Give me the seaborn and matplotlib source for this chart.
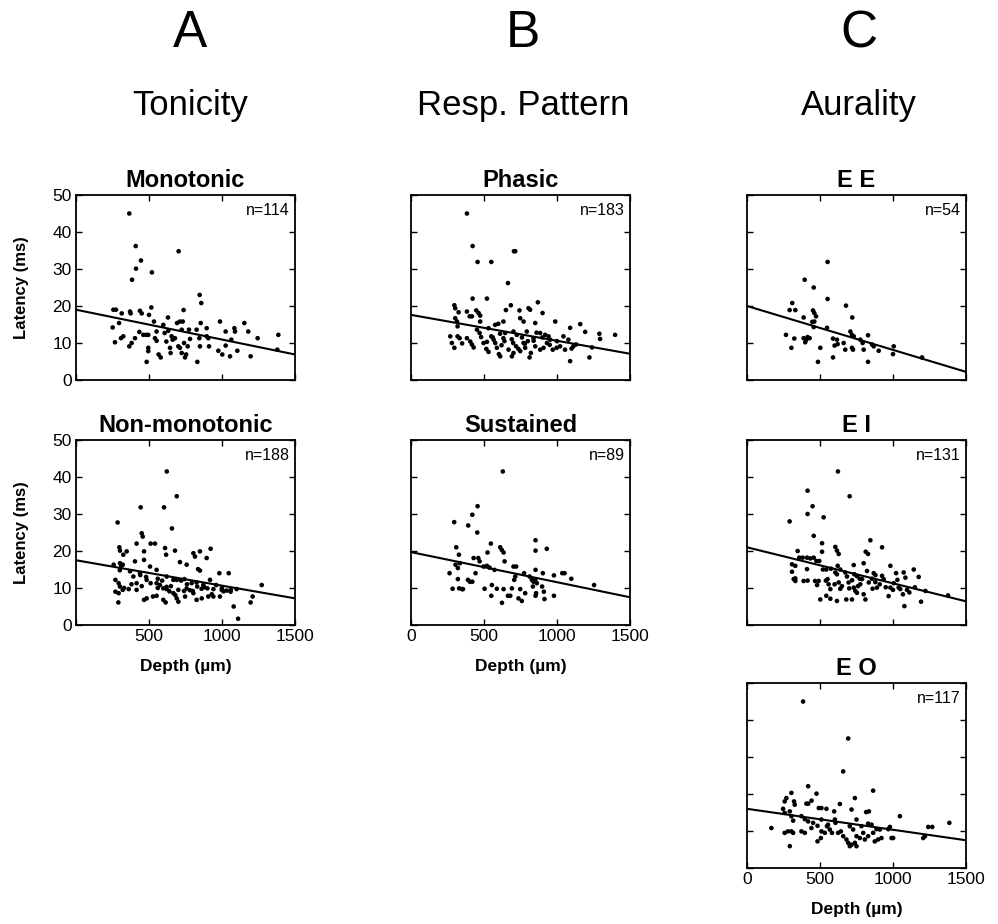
import numpy as np
import pandas as pd
import matplotlib
matplotlib.use("Agg")
import matplotlib.pyplot as plt
import seaborn as sns

# ---------------- data ----------------
titles = ["Monotonic", "Non-monotonic", "Phasic", "Sustained", "E E", "E I", "E O"]
n_labels = ["n=114", "n=188", "n=183", "n=89", "n=54", "n=131", "n=117"]
column_headers = ["A", "B", "C"]
column_names = ["Tonicity", "Resp. Pattern", "Aurality"]
x_ticks = [0, 500, 1000, 1500]
y_ticks = [0, 10, 20, 30, 40, 50]

mono_depth = [365, 409, 411, 445, 384, 520, 703, 847, 858, 256,
              274, 313, 370, 374, 438, 450, 500, 516, 737, 251,
              295, 308, 324, 267, 365, 381, 404, 434, 461, 480,
              495, 484, 495, 495, 534, 552, 541, 552, 566, 580,
              598, 607, 619, 630, 632, 644, 648, 655, 662, 678,
              692, 712, 731, 701, 712, 724, 724, 740, 747, 754,
              765, 774, 781, 826, 831, 845, 849, 854, 895, 895,
              906, 911, 975, 986, 1002, 1025, 1025, 1055, 1064, 1085,
              1089, 1105, 1153, 1180, 1196, 1244, 1386, 1379]
mono_lat = [45, 36.2, 30.1, 32.3, 27.1, 29.1, 34.8, 23, 20.8, 19,
            19, 18, 18.5, 18, 18.7, 18, 17.6, 19.6, 18.9, 14.2,
            15.4, 11.3, 11.8, 10.2, 9.1, 10, 11.3, 13, 12.2, 12.2,
            12.2, 4.9, 8.7, 7.8, 15.8, 13.1, 11.3, 10.6, 6.9, 6.1,
            14.9, 12.7, 10.4, 16.9, 13.3, 8.7, 7.3, 11.8, 10.9, 11.3,
            15.4, 15.8, 15.8, 9.1, 8.7, 7.3, 13.6, 10, 6.1, 6.9,
            9.1, 13.6, 11.1, 13.6, 4.9, 11.3, 9.1, 15.4, 14, 11.8,
            11.3, 9.1, 7.9, 15.8, 6.9, 13.1, 9.3, 6.4, 10.9, 14,
            13.1, 7.9, 15.4, 13.1, 6.4, 11.3, 12.2, 8.2]

nonmono_depth = [622, 690, 285, 443, 603, 657, 450, 457, 415, 511,
                 541, 466, 297, 301, 347, 324, 610, 617, 678, 804,
                 815, 849, 922, 895, 258, 301, 320, 404, 466, 507,
                 552, 712, 758, 836, 849, 982, 1046, 270, 292, 301,
                 370, 393, 415, 438, 484, 511, 552, 575, 621, 598,
                 621, 667, 690, 701, 742, 758, 792, 826, 872, 918,
                 941, 998, 1032, 1059, 1100, 270, 292, 290, 361, 415,
                 466, 484, 527, 552, 598, 614, 667, 690, 701, 747,
                 804, 826, 861, 906, 941, 1080, 1110, 1196, 1210, 1272,
                 986, 330, 320, 380, 450, 560, 620, 650, 720, 760,
                 800, 830, 880, 960, 1000, 300, 310, 440, 480, 560,
                 590, 640, 680, 740, 780, 860, 900, 930, 1010, 1060]
nonmono_lat = [41.5, 34.8, 27.7, 31.8, 31.8, 26.1, 24.8, 23.9, 22, 22,
               22, 19.9, 21, 20.1, 19.9, 19, 20.8, 19, 20.1, 19.4,
               18.5, 19.9, 20.6, 18.1, 16.3, 16.7, 16.3, 17.2, 17.6, 15.8,
               14.9, 17, 16.3, 15.1, 14.7, 14, 14, 12.2, 11.3, 10.4,
               14.5, 13.1, 11.3, 14, 12.2, 11.3, 11.3, 10.8, 13.1, 9.9,
               9.7, 12.2, 12.2, 9.5, 12.4, 9.9, 11.3, 11.5, 10.8, 12.2,
               9.7, 9.5, 9.3, 9, 9.7, 9, 8.6, 6.1, 9.7, 9.5,
               6.8, 7.2, 7.7, 7.9, 6.8, 6.1, 8.6, 7.2, 6.3, 7.7,
               8.6, 6.8, 7.2, 7.7, 7.7, 5, 1.7, 6.1, 7.7, 10.8,
               7.7, 10, 9.5, 11, 10.5, 10, 10.3, 10.5, 12, 11,
               9.2, 10.4, 10.2, 10.8, 10, 14.8, 16, 13.5, 13, 12.5,
               12, 9.1, 8.1, 9.2, 9.4, 9.8, 9.9, 8.3, 9.1, 9.5]

phasic_depth = [383, 422, 456, 550, 705, 714, 664, 422, 520, 869,
                297, 303, 383, 447, 463, 474, 326, 650, 684, 743,
                805, 816, 901, 748, 771, 851, 988, 1090, 1159, 1290,
                1193, 1398, 303, 315, 319, 402, 417, 474, 576, 598,
                633, 531, 269, 280, 297, 319, 333, 383, 406, 417,
                429, 452, 470, 497, 516, 531, 550, 566, 577, 588,
                602, 611, 633, 645, 668, 691, 702, 720, 736, 748,
                771, 782, 812, 821, 839, 851, 885, 908, 931, 953,
                971, 998, 1021, 1055, 1078, 1090, 1112, 1131, 1222, 1240,
                1295, 885, 919, 942, 702, 725, 793, 1044, 560, 610,
                640, 690, 760, 800, 860, 950, 1100, 350, 480, 520,
                620, 700, 780, 840, 900, 1000]
phasic_lat = [45, 36.2, 31.9, 31.9, 34.8, 34.8, 26.2, 22, 22, 21,
              20.2, 19.4, 18.5, 18.8, 18.1, 17.4, 18.3, 18.9, 20.2, 18.8,
              19.4, 19, 18.1, 16.7, 15.8, 15.4, 15.8, 14.1, 15.1, 12.5,
              13, 12.2, 16.7, 15.8, 14.5, 17.2, 17.2, 15.8, 14.9, 15.2,
              15.8, 14, 11.8, 10, 8.7, 11.8, 11.3, 11.3, 10.4, 9.6,
              8.8, 13.6, 12.7, 10, 8.4, 7.6, 11.8, 10.9, 10, 8.7,
              7, 6.4, 11.3, 12.7, 8.2, 6.4, 7.3, 9.1, 8.4, 7.8,
              10, 8.7, 6.1, 7.3, 11.3, 9.1, 8.2, 8.7, 10, 10.9,
              8.2, 8.7, 9.1, 8.2, 10.9, 5.1, 9.1, 9.6, 6.1, 8.8,
              11.1, 12.7, 12.2, 11.8, 13.1, 12.2, 13.1, 11.8, 11.5, 12.5,
              10.5, 11, 11.5, 10.5, 12.8, 9.5, 8.5, 9.9, 11.6, 10.3,
              9.4, 10, 9.8, 10.6, 11.5, 10.5]

sust_depth = [629, 456, 420, 296, 392, 454, 547, 611, 622, 634,
              310, 328, 524, 853, 853, 930, 641, 429, 461, 470,
              305, 321, 335, 497, 520, 538, 702, 720, 572, 264,
              775, 853, 903, 979, 1036, 1052, 1098, 1254, 321, 390,
              403, 420, 442, 330, 350, 285, 356, 504, 554, 588,
              634, 550, 623, 664, 680, 707, 714, 748, 736, 759,
              782, 812, 828, 839, 851, 862, 853, 857, 898, 910,
              914, 979, 835, 691]
sust_lat = [41.5, 32.1, 29.8, 27.8, 26.9, 25, 22, 21, 20.3, 19.6,
            21, 19, 19.6, 22.9, 20.1, 20.6, 17.2, 18.1, 18.1, 17.2,
            16.3, 15.4, 16.7, 15.8, 16, 15.5, 15.8, 15.8, 14.9, 14,
            14, 14.9, 14, 13.4, 14, 14, 12.5, 10.8, 12.4, 12.2,
            11.7, 11.7, 14, 9.9, 9.7, 9.8, 9.7, 9.8, 10.8, 9.8,
            9.7, 7.9, 6, 7.9, 7.9, 12.2, 13.1, 9.7, 7.2, 6.5,
            8.6, 13.1, 12.2, 11.7, 12.2, 11.3, 7.9, 8.6, 10.4, 9,
            7, 7.9, 10.4, 9.9]

ee_depth = [552, 395, 457, 552, 678, 721, 310, 292, 331, 388,
            452, 461, 473, 447, 461, 457, 548, 267, 324, 388,
            406, 415, 429, 399, 304, 502, 486, 589, 589, 616,
            600, 621, 662, 673, 708, 719, 731, 719, 726, 776,
            792, 799, 829, 829, 856, 868, 902, 1005, 1000, 1199]
ee_lat = [31.9, 27.1, 25, 21.9, 20.1, 16.9, 20.8, 18.9, 18.9, 16.9,
          18.8, 18.1, 17.2, 15.7, 15.8, 14.3, 14.1, 12.2, 11.2, 11.3,
          10.9, 11.6, 11.3, 10.2, 8.7, 8.7, 4.9, 6.1, 11.2, 10.9,
          9.3, 9.7, 10, 8.2, 13.1, 12.2, 11.8, 8.7, 8.2, 10.9,
          10, 8.2, 12.1, 4.9, 9.6, 9.1, 7.9, 9.1, 7, 6.1]

ei_depth = [623, 415, 703, 449, 415, 525, 292, 457, 845, 514,
            605, 616, 628, 813, 829, 925, 514, 347, 358, 381,
            411, 434, 457, 475, 308, 331, 495, 520, 543, 575,
            621, 639, 731, 799, 868, 982, 1142, 1021, 1073, 1085,
            1176, 308, 320, 331, 411, 415, 466, 491, 552, 605,
            616, 628, 639, 673, 685, 735, 753, 772, 696, 776,
            788, 822, 834, 856, 879, 731, 742, 753, 719, 799,
            811, 890, 909, 925, 936, 970, 982, 1005, 1039, 1050,
            1068, 1078, 1096, 1112, 1192, 1222, 1377, 502, 543, 571,
            616, 680, 388, 331, 559, 571, 600, 650, 700, 760,
            860, 950, 1000, 480, 540, 720, 880, 1030, 1150]
ei_lat = [41.5, 36.3, 34.8, 32.1, 30, 29.1, 28, 24.1, 22.9, 22.1,
          21.1, 20.1, 19.2, 19.8, 19.2, 21, 19.8, 20, 18.2, 18.2,
          18.2, 18, 18.2, 17.3, 16.4, 16, 17.3, 15, 15, 15.2,
          16, 15, 16.2, 16.7, 14, 16, 15, 14, 14.2, 12.8,
          13, 14.4, 12.4, 11.9, 15.1, 12, 11.9, 11.9, 12.4, 14.2,
          13.7, 11.5, 9.8, 14.2, 13.1, 13.7, 13.2, 12.5, 11.5, 11,
          12.4, 14.6, 11.5, 12.5, 11.6, 10.1, 9.2, 8.7, 6.9, 8.3,
          6.9, 10.1, 11, 13.3, 12.4, 7.8, 10.1, 11.3, 10.1, 9.7,
          8.3, 5.1, 9.5, 8.8, 6.3, 9.2, 8, 6.9, 7.9, 7.1,
          6.5, 6.9, 11.9, 12.6, 11, 9.7, 11, 10.5, 9.9, 10.5,
          9.8, 10.2, 9.5, 10.8, 12, 12.1, 13.5, 12.2, 10.2]

eo_depth = [384, 693, 659, 419, 304, 476, 864, 270, 258, 322,
            327, 419, 407, 442, 636, 739, 492, 510, 544, 597,
            716, 816, 835, 1047, 247, 258, 293, 304, 316, 373,
            396, 419, 453, 483, 510, 548, 567, 602, 606, 624,
            643, 704, 727, 750, 784, 830, 853, 887, 910, 967,
            979, 167, 258, 281, 304, 316, 293, 373, 396, 483,
            506, 441, 510, 533, 555, 582, 659, 681, 693, 704,
            716, 739, 750, 750, 773, 796, 807, 830, 875, 898,
            921, 990, 1001, 1207, 1219, 1242, 1269, 1386, 864]
eo_lat = [45, 35, 26.1, 22.1, 20.3, 20.1, 20.9, 18.9, 18, 18,
          17.1, 17.4, 17.4, 18.2, 17.3, 18.9, 16.2, 16.2, 16, 15.3,
          15.8, 15.1, 15.3, 14, 16, 14.9, 15.3, 14, 12.8, 14,
          13.2, 12.6, 12.2, 11.4, 13.1, 11.3, 10.4, 13.1, 12.2, 9.5,
          9.9, 11.3, 10.4, 13.1, 11.3, 12, 11.7, 10.5, 10.4, 10.5,
          11.1, 10.8, 9.5, 9.9, 9.9, 9.5, 5.9, 9.9, 9.5, 7.2,
          8.1, 10.8, 9.9, 9.5, 11.7, 9.5, 8.6, 7.7, 6.8, 5.9,
          6.3, 6.8, 5.9, 8.6, 8.1, 9.5, 7.7, 8.6, 7.2, 7.7,
          8.1, 8.1, 8.1, 8.1, 8.6, 11.1, 11.1, 12.2, 9.5]

# regression lines: latency at depth 0 and at depth 1500
line_depth = [0, 1500]
line_start = [19.0, 17.5, 17.6, 19.7, 20.0, 21.0, 16.0]
line_end = [6.9, 7.2, 7.1, 7.5, 2.2, 6.4, 7.5]

depths = [mono_depth, nonmono_depth, phasic_depth, sust_depth, ee_depth, ei_depth, eo_depth]
lats = [mono_lat, nonmono_lat, phasic_lat, sust_lat, ee_lat, ei_lat, eo_lat]

# ---------------- layout ----------------
sns.set_theme(style="ticks")
plt.rcParams["font.family"] = ["Liberation Sans", "DejaVu Sans"]
plt.rcParams["axes.linewidth"] = 1.3
plt.rcParams["axes.edgecolor"] = "black"
plt.rcParams["text.color"] = "black"
plt.rcParams["axes.labelcolor"] = "black"
plt.rcParams["axes.titlecolor"] = "black"
plt.rcParams["xtick.color"] = "black"
plt.rcParams["ytick.color"] = "black"
plt.rcParams["xtick.labelcolor"] = "black"
plt.rcParams["ytick.labelcolor"] = "black"

W, H = 998, 924
fig = plt.figure(figsize=(W / 100, H / 100), dpi=100)

col_left = [76, 411, 747]
ax_w = 219
row_top = [195, 440, 683]
ax_h = 185
grid = [(0, 0), (0, 1), (1, 0), (1, 1), (2, 0), (2, 1), (2, 2)]
bottom_panels = {1: 0, 3: 1, 6: 2}

for i, (col, row) in enumerate(grid):
    l = col_left[col] / W
    b = 1 - (row_top[row] + ax_h) / H
    ax = fig.add_axes([l, b, ax_w / W, ax_h / H])
    n = min(len(depths[i]), len(lats[i]))
    df = pd.DataFrame({"Depth": depths[i][:n], "Latency": lats[i][:n]})
    sns.scatterplot(data=df, x="Depth", y="Latency", ax=ax, s=11,
                    color="black", edgecolor="none", linewidth=0, legend=False)
    ldf = pd.DataFrame({"Depth": line_depth, "Latency": [line_start[i], line_end[i]]})
    sns.lineplot(data=ldf, x="Depth", y="Latency", ax=ax, color="black",
                 linewidth=1.5, legend=False)
    ax.set_xlim(0, 1500)
    ax.set_ylim(0, 50)
    ax.set_xticks(x_ticks)
    ax.set_yticks(y_ticks)
    ax.tick_params(direction="in", top=True, right=True, length=4, width=1,
                   labelsize=12.5, pad=3, colors="black")
    for sp in ax.spines.values():
        sp.set_visible(True)
        sp.set_color("black")
    ax.set_title(titles[i], fontsize=17, fontweight="bold", pad=6, color="black")
    ax.text(0.975, 0.958, n_labels[i], transform=ax.transAxes, ha="right",
            va="top", fontsize=11.5, color="black")
    if col == 0:
        ax.set_ylabel("Latency (ms)", fontsize=12, fontweight="bold", color="black")
        ax.yaxis.set_label_coords(-0.215, 0.5)
    else:
        ax.set_ylabel("")
        ax.set_yticklabels([])
    if i in bottom_panels:
        labels = [str(t) for t in x_ticks]
        if col == 0:
            labels[0] = ""
        ax.set_xticklabels(labels)
        ax.set_xlabel("Depth (\u00b5m)", fontsize=12.5, fontweight="bold", color="black")
        ax.xaxis.set_label_coords(0.5, -0.185)
    else:
        ax.set_xticklabels([])
        ax.set_xlabel("")

header_x = [190, 523, 859]
for c in range(3):
    fig.text(header_x[c] / W, 1 - 47 / H, column_headers[c], fontsize=37,
             ha="center", va="baseline", color="black")
    fig.text(header_x[c] / W, 1 - 115 / H, column_names[c], fontsize=25,
             ha="center", va="baseline", color="black")

fig.savefig("out.png", dpi=100, facecolor="white")
